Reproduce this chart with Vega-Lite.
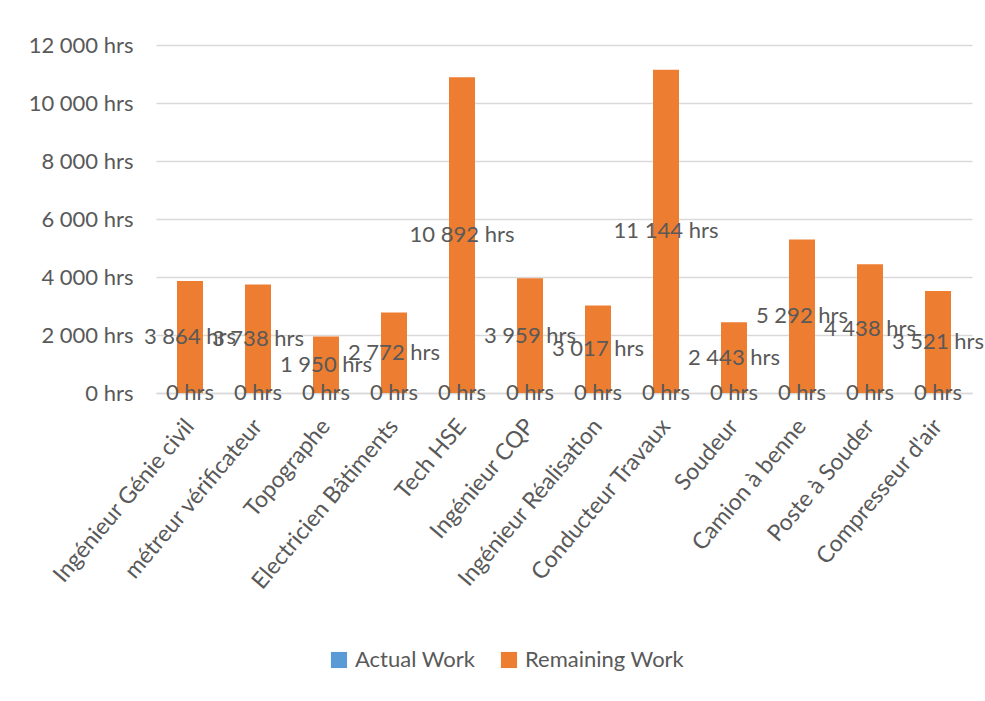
{
  "$schema": "https://vega.github.io/schema/vega-lite/v6.json",
  "width": 816,
  "height": 348,
  "autosize": {"type": "none"},
  "padding": {"left": 156, "top": 45, "right": 13, "bottom": 308},
  "background": "white",
  "config": {"font": "Lato", "view": {"stroke": null}},
  "data": {
    "values": [
      {"role": "Ingénieur Génie civil", "series": "Actual Work", "hours": 0},
      {"role": "métreur vérificateur", "series": "Actual Work", "hours": 0},
      {"role": "Topographe", "series": "Actual Work", "hours": 0},
      {"role": "Electricien Bâtiments", "series": "Actual Work", "hours": 0},
      {"role": "Tech HSE", "series": "Actual Work", "hours": 0},
      {"role": "Ingénieur CQP", "series": "Actual Work", "hours": 0},
      {"role": "Ingénieur Réalisation", "series": "Actual Work", "hours": 0},
      {"role": "Conducteur Travaux", "series": "Actual Work", "hours": 0},
      {"role": "Soudeur", "series": "Actual Work", "hours": 0},
      {"role": "Camion à benne", "series": "Actual Work", "hours": 0},
      {"role": "Poste à Souder", "series": "Actual Work", "hours": 0},
      {"role": "Compresseur d'air", "series": "Actual Work", "hours": 0},
      {"role": "Ingénieur Génie civil", "series": "Remaining Work", "hours": 3864},
      {"role": "métreur vérificateur", "series": "Remaining Work", "hours": 3738},
      {"role": "Topographe", "series": "Remaining Work", "hours": 1950},
      {"role": "Electricien Bâtiments", "series": "Remaining Work", "hours": 2772},
      {"role": "Tech HSE", "series": "Remaining Work", "hours": 10892},
      {"role": "Ingénieur CQP", "series": "Remaining Work", "hours": 3959},
      {"role": "Ingénieur Réalisation", "series": "Remaining Work", "hours": 3017},
      {"role": "Conducteur Travaux", "series": "Remaining Work", "hours": 11144},
      {"role": "Soudeur", "series": "Remaining Work", "hours": 2443},
      {"role": "Camion à benne", "series": "Remaining Work", "hours": 5292},
      {"role": "Poste à Souder", "series": "Remaining Work", "hours": 4438},
      {"role": "Compresseur d'air", "series": "Remaining Work", "hours": 3521}
    ]
  },
  "transform": [
    {"calculate": "datum.hours / 2", "as": "mid"},
    {"calculate": "replace(format(datum.hours, ',d'), /,/g, ' ') + ' hrs'", "as": "label"}
  ],
  "encoding": {
    "x": {
      "field": "role",
      "type": "nominal",
      "sort": null,
      "scale": {"paddingInner": 0, "paddingOuter": 0},
      "axis": {
        "title": null,
        "labelAngle": -50,
        "labelFontSize": 23,
        "labelColor": "#595959",
        "labelPadding": 29,
        "ticks": false,
        "domain": true,
        "domainColor": "#d9d9d9",
        "domainWidth": 1.5,
        "labelLimit": 400
      }
    }
  },
  "layer": [
    {
      "mark": {"type": "bar", "size": 26},
      "encoding": {
        "y": {
          "field": "hours",
          "type": "quantitative",
          "scale": {"domain": [0, 12000]},
          "axis": {
            "title": null,
            "values": [0, 2000, 4000, 6000, 8000, 10000, 12000],
            "labelExpr": "replace(format(datum.value, ',d'), /,/g, ' ') + ' hrs'",
            "labelFontSize": 22,
            "labelColor": "#595959",
            "labelPadding": 23,
            "domain": false,
            "ticks": false,
            "gridColor": "#d9d9d9",
            "gridWidth": 1.5
          }
        },
        "color": {
          "field": "series",
          "type": "nominal",
          "scale": {"domain": ["Actual Work", "Remaining Work"], "range": ["#5B9BD5", "#ED7D31"]},
          "legend": {
            "orient": "none",
            "direction": "horizontal",
            "legendX": 172,
            "legendY": 604,
            "title": null,
            "symbolType": "square",
            "symbolSize": 260,
            "symbolStrokeWidth": 0,
            "labelFontSize": 22,
            "labelColor": "#595959",
            "labelOffset": 5,
            "columnPadding": 22
          }
        }
      }
    },
    {
      "mark": {"type": "text", "fontSize": 22, "color": "#595959"},
      "encoding": {
        "y": {"field": "mid", "type": "quantitative"},
        "text": {"field": "label"}
      }
    }
  ]
}
